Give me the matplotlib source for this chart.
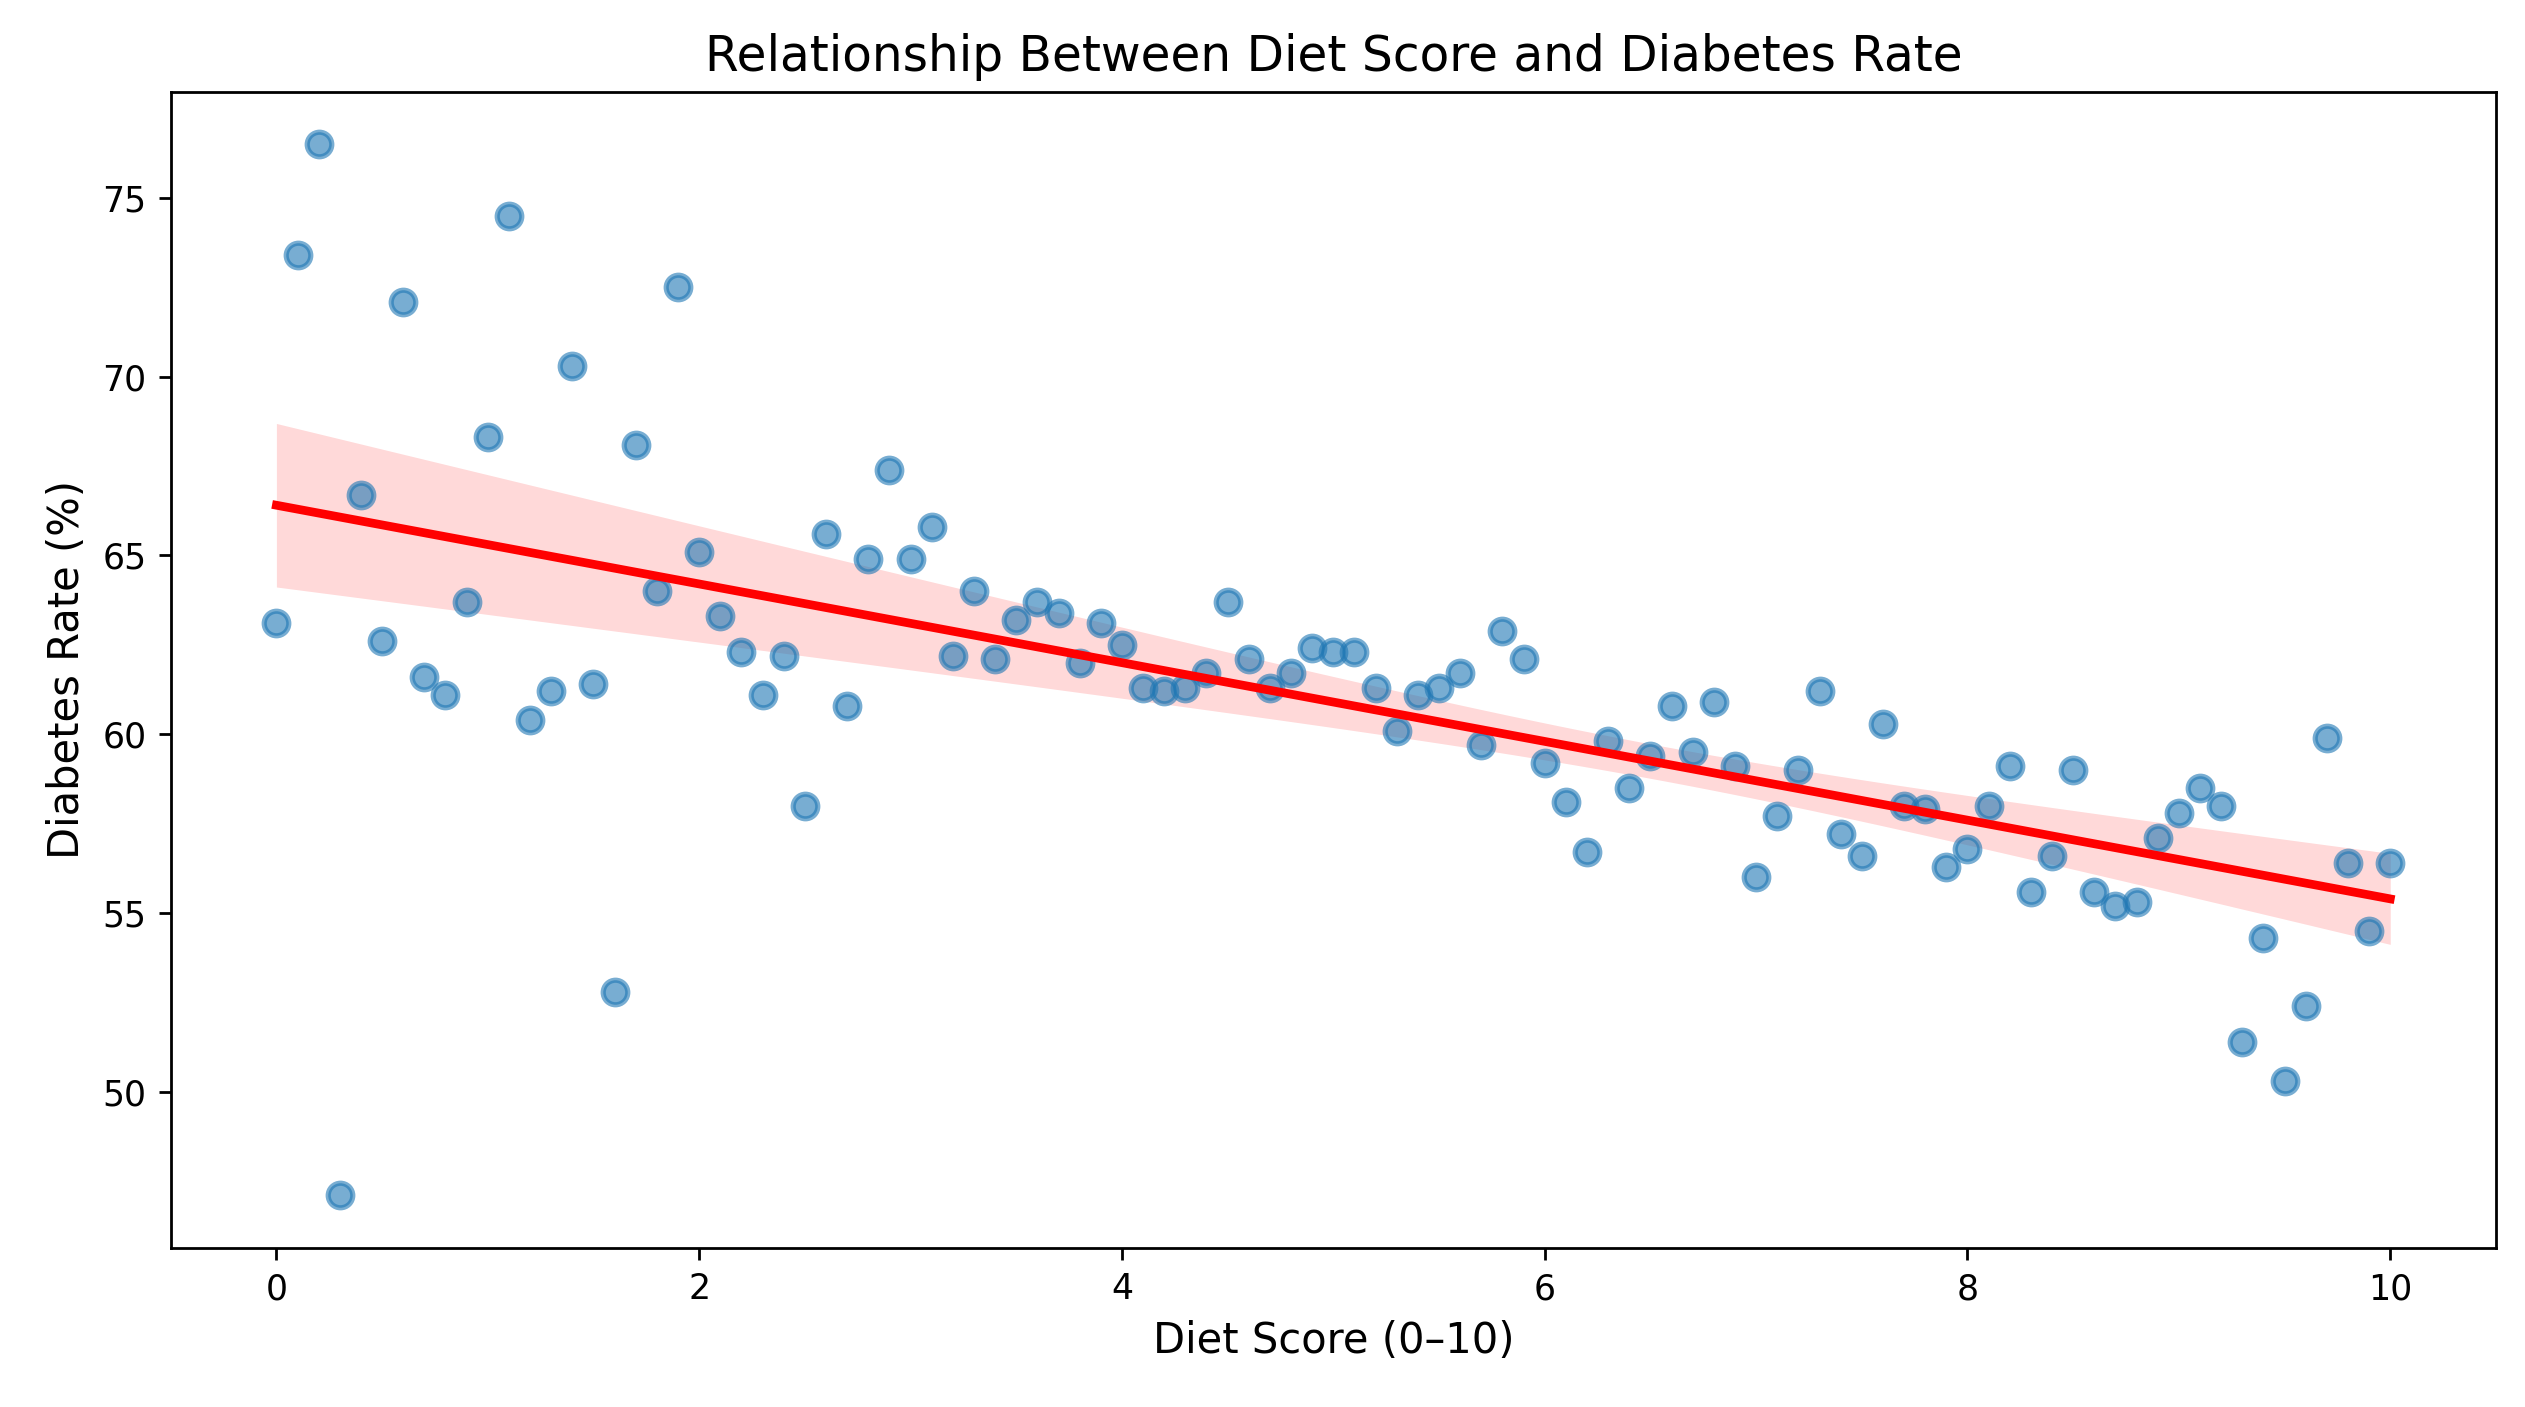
import numpy as np
import matplotlib
matplotlib.use("Agg")
import matplotlib.pyplot as plt

diet_score = [round(0.1 * i, 1) for i in range(101)]
diabetes_rate = [
    63.1, 73.4, 76.5, 47.1, 66.7, 62.6, 72.1, 61.6, 61.1, 63.7,
    68.3, 74.5, 60.4, 61.2, 70.3, 61.4, 52.8, 68.1, 64.0, 72.5,
    65.1, 63.3, 62.3, 61.1, 62.2, 58.0, 65.6, 60.8, 64.9, 67.4,
    64.9, 65.8, 62.2, 64.0, 62.1, 63.2, 63.7, 63.4, 62.0, 63.1,
    62.5, 61.3, 61.2, 61.3, 61.7, 63.7, 62.1, 61.3, 61.7, 62.4,
    62.3, 62.3, 61.3, 60.1, 61.1, 61.3, 61.7, 59.7, 62.9, 62.1,
    59.2, 58.1, 56.7, 59.8, 58.5, 59.4, 60.8, 59.5, 60.9, 59.1,
    56.0, 57.7, 59.0, 61.2, 57.2, 56.6, 60.3, 58.0, 57.9, 56.3,
    56.8, 58.0, 59.1, 55.6, 56.6, 59.0, 55.6, 55.2, 55.3, 57.1,
    57.8, 58.5, 58.0, 51.4, 54.3, 50.3, 52.4, 59.9, 56.4, 54.5,
    56.4,
]

x = np.array(diet_score)
y = np.array(diabetes_rate)

fig = plt.figure(figsize=(10.1, 5.628), dpi=250)
ax = fig.add_axes([0.0676, 0.1130, 0.9209, 0.8218])

ax.scatter(x, y, s=50, color="C0", alpha=0.6, linewidths=1.5, edgecolors="C0", zorder=2)

# linear fit with heteroscedasticity-robust 95% confidence band
n = len(x)
X = np.column_stack([np.ones(n), x])
XtX_inv = np.linalg.inv(X.T @ X)
beta = XtX_inv @ X.T @ y
resid = y - X @ beta
meat = X.T @ (X * (resid ** 2)[:, None])
cov = XtX_inv @ meat @ XtX_inv * n / (n - 2)
grid = np.linspace(x.min(), x.max(), 100)
G = np.column_stack([np.ones_like(grid), grid])
yhat = G @ beta
se = np.sqrt(np.einsum("ij,jk,ik->i", G, cov, G))
t = 1.984
ax.fill_between(grid, yhat - t * se, yhat + t * se, color="red", alpha=0.15, linewidth=0, zorder=1)
ax.plot(grid, yhat, color="red", linewidth=2.5, zorder=3)

ax.set_title("Relationship Between Diet Score and Diabetes Rate", fontsize=14)
ax.set_xlabel("Diet Score (0–10)", fontsize=12)
ax.set_ylabel("Diabetes Rate (%)", fontsize=12)

fig.savefig("out.png", dpi=250)
